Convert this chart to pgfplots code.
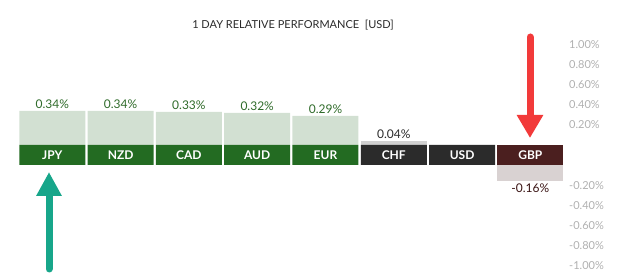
\documentclass[border=0pt]{standalone}
\usepackage{pgfplots}
\pgfplotsset{compat=1.18}
\usepackage{fontspec}
\setmainfont{Lato}
\usetikzlibrary{arrows.meta}
\definecolor{bandgreen}{HTML}{236B22}
\definecolor{lightgreen}{HTML}{D2E0D2}
\definecolor{bandgray}{HTML}{2B2B2B}
\definecolor{lightgray2}{HTML}{D0D0D0}
\definecolor{bandred}{HTML}{4B1F1F}
\definecolor{lightred}{HTML}{D9D2D2}
\definecolor{labgreen}{HTML}{2F6B2A}
\definecolor{labgray}{HTML}{2A2A2A}
\definecolor{labred}{HTML}{3A1414}
\definecolor{tickgray}{HTML}{B0B0B0}
\definecolor{arrred}{HTML}{F23A3A}
\definecolor{arrteal}{HTML}{17A68A}

\pgfplotsset{
  base/.style={
    scale only axis, width=565pt,
    xmin=-0.7657, xmax=7.507,
    axis line style={draw=none},
    major tick length=0pt,
    xtick=\empty,
    clip=false,
    yticklabel pos=right,
    /pgf/number format/assume math mode=true,
    yticklabel style={anchor=west, inner sep=0pt, xshift=4pt, text=tickgray, font=\fontsize{11}{13}\selectfont},
  },
  valbar/.style={ybar, bar width=66pt, bar shift=0pt, draw=none,
    nodes near coords={\pgfmathprintnumber[fixed,fixed zerofill,precision=2]{\pgfplotspointmeta}\%},
    every node near coord/.append style={font=\fontsize{12}{14}\selectfont, inner sep=2pt}},
  bandbar/.style={ybar, bar width=66pt, bar shift=0pt, draw=none,
    point meta=explicit symbolic,
    nodes near coords, nodes near coords align={center},
    every node near coord/.append style={anchor=center, yshift=-10pt, text=white,
      font=\bfseries\fontsize{12}{14}\selectfont}},
}

\begin{document}
\begin{tikzpicture}
\useasboundingbox (0,0) rectangle (625pt,280pt);

% positive part
\begin{axis}[base, at={(0pt,135pt)}, anchor=south west, height=110pt,
  ymin=0, ymax=1.1,
  ytick={0.2,0.4,0.6,0.8,1.0},
  yticklabels={0.20\%,0.40\%,0.60\%,0.80\%,1.00\%}]
\addplot[valbar, fill=lightgreen, every node near coord/.append style={text=labgreen}]
  coordinates {(0,0.34) (1,0.34) (2,0.33) (3,0.32) (4,0.29)};
\addplot[valbar, fill=lightgray2, every node near coord/.append style={text=labgray}]
  coordinates {(5,0.04)};
\end{axis}

% currency band
\begin{axis}[base, at={(0pt,115pt)}, anchor=south west, height=20pt,
  ymin=0, ymax=1, ytick=\empty]
\addplot[bandbar, fill=bandgreen] table[meta=label] {
x y label
0 1 JPY
1 1 NZD
2 1 CAD
3 1 AUD
4 1 EUR
};
\addplot[bandbar, fill=bandgray] table[meta=label] {
x y label
5 1 CHF
6 1 USD
};
\addplot[bandbar, fill=bandred] table[meta=label] {
x y label
7 1 GBP
};
\end{axis}

% negative part
\begin{axis}[base, at={(0pt,115pt)}, anchor=north west, height=113pt,
  ymin=-1.12, ymax=0,
  ytick={-0.2,-0.4,-0.6,-0.8,-1.0},
  yticklabels={-0.20\%,-0.40\%,-0.60\%,-0.80\%,-1.00\%}]
\addplot[valbar, fill=lightred, every node near coord/.append style={text=labred}]
  coordinates {(7,-0.16)};
\end{axis}

% title
\node[text=labgray, font=\fontsize{11}{13}\selectfont] at (293pt,255pt) {1 DAY RELATIVE PERFORMANCE\ \ [USD]};

% annotation arrows
\draw[arrred, line width=7pt, line cap=round, -{Triangle[width=25pt,length=23pt]}] (530pt,243pt) -- (530pt,142pt);
\draw[arrteal, line width=7pt, line cap=round, -{Triangle[width=24pt,length=24pt]}] (49pt,11pt) -- (49pt,108pt);
\end{tikzpicture}
\end{document}
